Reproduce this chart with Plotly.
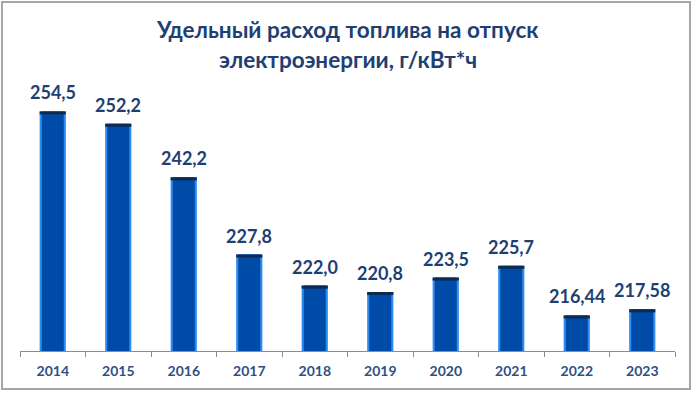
import plotly.graph_objects as go

years = ["2014", "2015", "2016", "2017", "2018", "2019", "2020", "2021", "2022", "2023"]
values = [254.5, 252.2, 242.2, 227.8, 222.0, 220.8, 223.5, 225.7, 216.44, 217.58]
labels = ["254,5", "252,2", "242,2", "227,8", "222,0", "220,8", "223,5", "225,7", "216,44", "217,58"]
title_lines = ["Удельный расход топлива на отпуск", "электроэнергии, г/кВт*ч"]

W, H = 694, 394
ML, MR, MT, MB = 20, 19, 80, 43
PW, PH = W - ML - MR, H - MT - MB
YMIN = 209.8
PX_PER_UNIT = 5.36
YMAX = YMIN + PH / PX_PER_UNIT
CAP = 3 / PX_PER_UNIT

FONT = "Lato"
TXT = "#1F3F73"

xpos = list(range(len(years)))

fig = go.Figure()
# light blue outer bar (edges)
fig.add_trace(go.Bar(x=xpos, y=values, width=0.40, marker=dict(color="#2E8BF0", line=dict(width=0)),
                     hoverinfo="skip", showlegend=False))
# main dark blue fill
fig.add_trace(go.Bar(x=xpos, y=values, width=0.335, marker=dict(color="#004BA8", line=dict(width=0)),
                     hoverinfo="skip", showlegend=False))
# dark cap on top
fig.add_trace(go.Bar(x=xpos, y=[CAP] * len(values), base=[v - CAP for v in values], width=0.40,
                     marker=dict(color="#0C2A52", line=dict(width=0)), hoverinfo="skip", showlegend=False))

for i, (v, lab) in enumerate(zip(values, labels)):
    fig.add_annotation(x=i, y=v, text=f"<b>{lab}</b>", showarrow=False, yanchor="bottom", yshift=6,
                       font=dict(family=FONT, size=18, color=TXT))

for txt, py in zip(title_lines, [29, 60]):
    fig.add_annotation(xref="paper", yref="paper", x=0.5, y=(H - MB - py) / PH, text=f"<b>{txt}</b>",
                       showarrow=False, xanchor="center", yanchor="middle",
                       font=dict(family=FONT, size=22.5, color=TXT))

# outer border
fig.add_shape(type="rect", xref="paper", yref="paper",
              x0=(2 - ML) / PW, x1=(690 - ML) / PW,
              y0=(H - MB - 389) / PH, y1=(H - MB - 2) / PH,
              line=dict(color="#A6A6A6", width=2), layer="above")

fig.update_layout(
    width=W, height=H, margin=dict(l=ML, r=MR, t=MT, b=MB),
    paper_bgcolor="white", plot_bgcolor="white", barmode="overlay",
    xaxis=dict(tickmode="array", tickvals=xpos, ticktext=[f"<b>{y}</b>" for y in years],
               range=[-0.5, len(years) - 0.5], showline=True, linecolor="#8C8C8C", linewidth=1,
               ticks="", showgrid=False, zeroline=False, automargin=False, ticklabelstandoff=7,
               tickfont=dict(family=FONT, size=14, color="#2F4F86")),
    xaxis2=dict(overlaying="x", matches="x", tickmode="array",
                tickvals=[i - 0.5 for i in range(len(years) + 1)], ticktext=[""] * (len(years) + 1),
                ticks="outside", ticklen=5, tickcolor="#8C8C8C", showgrid=False, side="bottom",
                showticklabels=False, zeroline=False, automargin=False),
    yaxis=dict(range=[YMIN, YMAX], visible=False, showgrid=False, automargin=False),
)
# invisible trace to show boundary ticks on xaxis2
fig.add_trace(go.Scatter(x=[xpos[0]], y=[YMIN], xaxis="x2", mode="markers",
                         marker=dict(opacity=0), hoverinfo="skip", showlegend=False))

fig.write_html("out.html", config={"displayModeBar": False},
               post_script="document.body.style.margin='0px';")
